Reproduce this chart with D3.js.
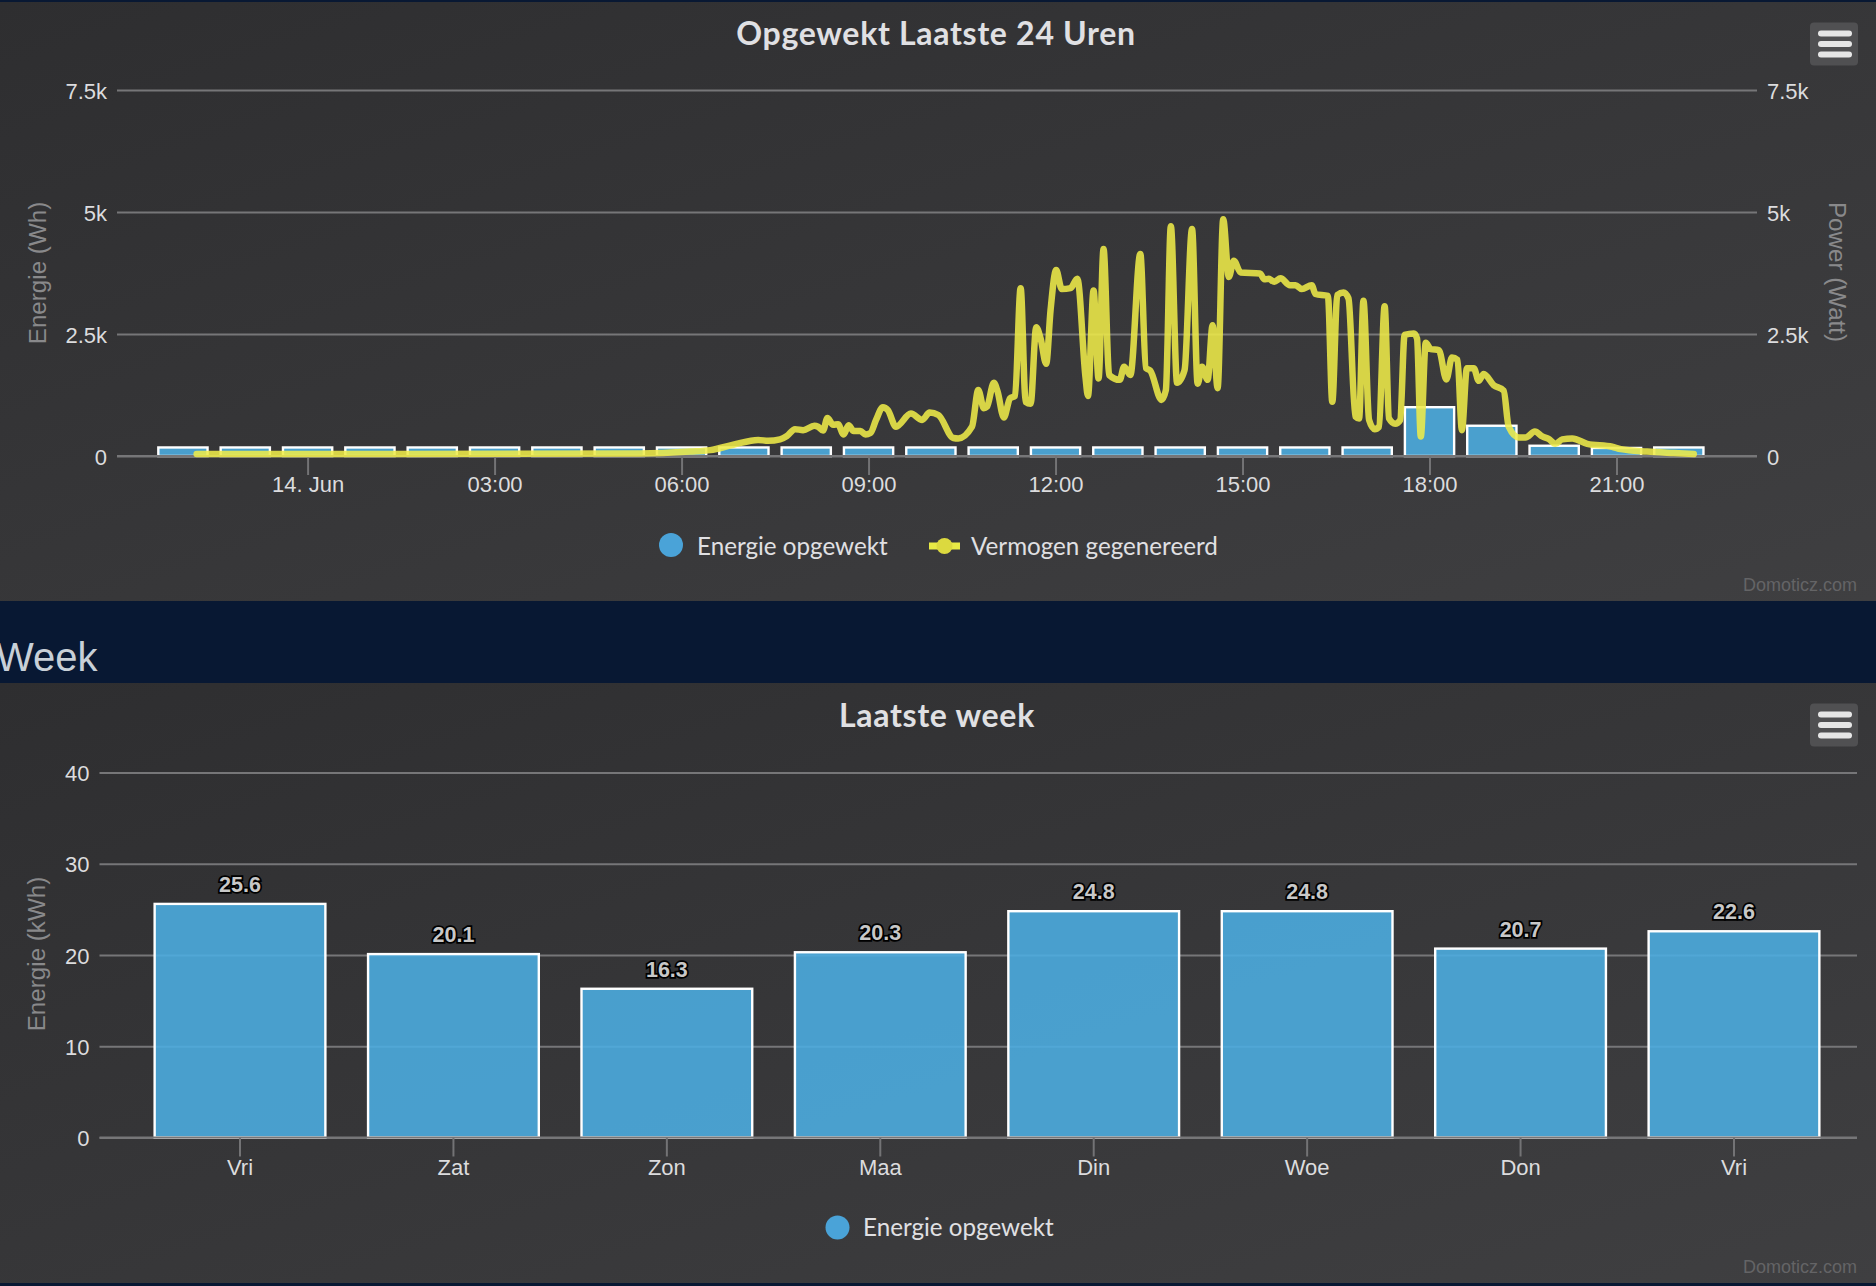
<!DOCTYPE html>
<html>
<head>
<meta charset="utf-8">
<title>Opgewekt</title>
<script src="https://cdnjs.cloudflare.com/ajax/libs/d3/7.8.5/d3.min.js"></script>
<style>
    html, body { margin: 0; background: #081833; }
    svg { display: block; }
    text { font-family: "Liberation Sans", Arial, sans-serif; }
    .title { font-family: Lato, sans-serif; font-weight: 700; font-size: 32px; letter-spacing: 0.7px; fill: #e0e0e3; text-anchor: middle; }
    .legend { font-family: Lato, sans-serif; font-size: 24.2px; fill: #e0e0e3; }
    .axis-title { font-size: 24.2px; fill: #89898b; text-anchor: middle; }
    .tick-label { font-size: 22px; fill: #dcdcde; }
    .credit { font-size: 18px; fill: #646466; text-anchor: end; }
    .bar-label { font-size: 21.5px; font-weight: 700; fill: #c8c8c8; stroke: #000; stroke-width: 3.5px; paint-order: stroke; text-anchor: middle; }
</style>
</head>
<body>
<svg id="chart" width="1876" height="1286"></svg>
<script>
'use strict';

// Last 24 hours. Hours are relative to midnight of 14 June.
const dayEnergyHours = [-2, -1, 0, 1, 2, 3, 4, 5, 6, 7, 8, 9, 10, 11, 12, 13, 14, 15, 16, 17, 18, 19, 20, 21, 22];
const dayEnergyWh = [175, 175, 175, 175, 175, 175, 175, 175, 175, 175, 175, 175, 175, 175, 175, 175, 175, 175, 175, 175, 1000, 620, 210, 165, 175];

const powerHours = [
    -1.78, 5.34, 6.14, 6.46, 6.83, 7.23, 7.39, 7.58, 7.69, 7.82, 7.95, 8.13, 8.19, 8.27, 8.34, 8.43, 8.51, 8.60, 8.68, 8.76,
    8.87, 8.95, 9.03, 9.12, 9.23, 9.31, 9.44, 9.68, 9.86, 9.98, 10.12, 10.36, 10.44, 10.66, 10.76, 10.85, 10.90, 11.01, 11.07, 11.17,
    11.27, 11.35, 11.44, 11.52, 11.60, 11.69, 11.76, 11.85, 11.92, 12.01, 12.10, 12.24, 12.35, 12.48, 12.52, 12.61, 12.69, 12.77, 12.86, 13.03,
    13.10, 13.20, 13.36, 13.45, 13.52, 13.70, 13.77, 13.85, 13.95, 14.07, 14.19, 14.28, 14.35, 14.44, 14.52, 14.60, 14.69, 14.78, 14.86, 14.97,
    15.28, 15.35, 15.42, 15.51, 15.61, 15.76, 15.85, 15.95, 16.11, 16.17, 16.37, 16.44, 16.52, 16.62, 16.70, 16.81, 16.87, 16.94, 17.03, 17.12,
    17.19, 17.28, 17.35, 17.45, 17.53, 17.60, 17.75, 17.80, 17.86, 17.94, 18.02, 18.15, 18.27, 18.36, 18.45, 18.52, 18.60, 18.71, 18.79, 18.87,
    19.03, 19.19, 19.27, 19.43, 19.54, 19.69, 19.81, 19.91, 20.02, 20.13, 20.29, 20.53, 20.93, 21.07, 21.49, 21.92, 22.24
];
const powerWatts = [
    40, 50, 90, 120, 230, 330, 310, 340, 410, 550, 530, 620, 600, 520, 780, 640, 650, 440, 630, 510,
    510, 440, 470, 740, 1000, 940, 600, 870, 740, 890, 840, 370, 360, 600, 1350, 980, 1010, 1500, 1320, 790,
    1180, 1230, 3440, 1110, 1070, 2640, 2410, 1890, 2990, 3810, 3420, 3440, 3630, 1620, 1230, 3390, 1590, 4240, 1660, 1560,
    1830, 1660, 4140, 1800, 1750, 1150, 1350, 4710, 1500, 1760, 4650, 1480, 1830, 1560, 2680, 1390, 4850, 3670, 4000, 3760,
    3740, 3620, 3630, 3570, 3640, 3500, 3500, 3420, 3500, 3320, 3280, 1110, 3300, 3350, 3230, 810, 770, 3180, 740, 550,
    600, 3070, 770, 660, 740, 2480, 2510, 2410, 400, 2320, 2190, 2170, 1570, 2020, 1970, 530, 1800, 1800, 1540, 1680,
    1450, 1340, 600, 380, 380, 500, 400, 350, 250, 340, 360, 250, 190, 140, 90, 60, 40
];

const hourTicks = [0, 3, 6, 9, 12, 15, 18, 21];
const hourTickLabels = ['14. Jun', '03:00', '06:00', '09:00', '12:00', '15:00', '18:00', '21:00'];
const dayYTicks = [0, 2500, 5000, 7500];
const dayYTickLabels = ['0', '2.5k', '5k', '7.5k'];

// Last week
const weekDays = ['Vri', 'Zat', 'Zon', 'Maa', 'Din', 'Woe', 'Don', 'Vri'];
const weekEnergyKwh = [25.6, 20.1, 16.3, 20.3, 24.8, 24.8, 20.7, 22.6];
const weekYTicks = [0, 10, 20, 30, 40];

const BAR_BLUE = '#4caee2';
const LEGEND_BLUE = '#4aa3d8';
const LINE_YELLOW = '#efeb48';

const svg = d3.select('#chart');

const gradient = svg.append('defs').append('linearGradient')
    .attr('id', 'panel')
    .attr('x1', 0).attr('y1', 0).attr('x2', 1).attr('y2', 1);
gradient.append('stop').attr('offset', '0%').attr('stop-color', '#2e2e30');
gradient.append('stop').attr('offset', '100%').attr('stop-color', '#3f3f41');

function drawPanel(top, bottom) {
    svg.append('rect')
        .attr('x', 0)
        .attr('y', top)
        .attr('width', 1876)
        .attr('height', bottom - top)
        .attr('fill', 'url(#panel)');
}

function drawMenuButton(top) {
    const g = svg.append('g').attr('transform', 'translate(1810,' + top + ')');
    g.append('rect')
        .attr('width', 48)
        .attr('height', 43)
        .attr('rx', 4)
        .attr('fill', '#505052');
    [11, 21.5, 32].forEach(y => {
        g.append('line')
            .attr('x1', 11).attr('x2', 39)
            .attr('y1', y).attr('y2', y)
            .attr('stroke', '#e6e6e6')
            .attr('stroke-width', 6)
            .attr('stroke-linecap', 'round');
    });
}

function drawGrid(scaleY, left, right, ticks, labels) {
    const axis = svg.append('g')
        .attr('transform', 'translate(' + left + ',0)')
        .call(d3.axisLeft(scaleY)
            .tickValues(ticks)
            .tickSize(left - right)
            .tickFormat((d, i) => labels[i]));
    axis.select('.domain').remove();
    axis.selectAll('line').attr('stroke', '#767678').attr('stroke-width', 1.8);
    axis.selectAll('text')
        .attr('class', 'tick-label')
        .attr('x', -10)
        .attr('dy', 8)
        .attr('fill', null)
        .attr('text-anchor', 'end');
    axis.attr('font-family', null).attr('font-size', null);
}

function drawBottomAxis(scale, y, left, right, ticks, labels, labelY) {
    svg.append('line')
        .attr('x1', left).attr('x2', right)
        .attr('y1', y).attr('y2', y)
        .attr('stroke', '#767678')
        .attr('stroke-width', 2);

    const axis = svg.append('g')
        .attr('transform', 'translate(0,' + y + ')')
        .call(d3.axisBottom(scale)
            .tickValues(ticks)
            .tickSize(19)
            .tickFormat((d, i) => labels[i]));
    axis.select('.domain').remove();
    axis.selectAll('line').attr('stroke', '#737375').attr('stroke-width', 2);
    axis.selectAll('text')
        .attr('class', 'tick-label')
        .attr('y', labelY)
        .attr('dy', 0)
        .attr('fill', null);
    axis.attr('font-family', null).attr('font-size', null);
}

function drawAxisTitle(text, x, y, angle) {
    svg.append('text')
        .attr('class', 'axis-title')
        .attr('transform', 'translate(' + x + ',' + y + ') rotate(' + angle + ')')
        .text(text);
}

function drawBars(selection) {
    selection
        .attr('fill', BAR_BLUE)
        .attr('fill-opacity', 0.88)
        .attr('stroke', '#fff')
        .attr('stroke-width', 2.4);
}

// Top chart
const dayX = d3.scaleLinear().domain([0, 21]).range([307.6, 1616.5]);
const dayY = d3.scaleLinear().domain([0, 7500]).range([456, 90]);

drawPanel(2, 601);
svg.append('text').attr('class', 'title').attr('x', 936).attr('y', 45).text('Opgewekt Laatste 24 Uren');
drawMenuButton(22.5);

drawGrid(dayY, 117, 1757, dayYTicks, dayYTickLabels);
const dayRight = svg.append('g')
    .attr('transform', 'translate(1767,0)')
    .call(d3.axisRight(dayY)
        .tickValues(dayYTicks)
        .tickSize(0)
        .tickPadding(0)
        .tickFormat((d, i) => dayYTickLabels[i]));
dayRight.select('.domain').remove();
dayRight.selectAll('text')
    .attr('class', 'tick-label')
    .attr('dy', 8)
    .attr('fill', null);
dayRight.attr('font-family', null).attr('font-size', null);

drawAxisTitle('Energie (Wh)', 46, 273, -90);
drawAxisTitle('Power (Watt)', 1829, 272, 90);

const dayBarWidth = dayX(0.79) - dayX(0);

svg.append('g').selectAll('rect')
    .data(dayEnergyWh)
    .join('rect')
    .attr('x', (d, i) => dayX(dayEnergyHours[i]) - dayBarWidth / 2)
    .attr('y', d => dayY(d))
    .attr('width', dayBarWidth)
    .attr('height', d => dayY(0) - dayY(d))
    .call(drawBars);

drawBottomAxis(dayX, 456, 117, 1757, hourTicks, hourTickLabels, 36);

const powerLine = d3.line()
    .x((d, i) => dayX(powerHours[i]))
    .y(d => dayY(d))
    .curve(d3.curveMonotoneX);

svg.append('path')
    .attr('d', powerLine(powerWatts))
    .attr('fill', 'none')
    .attr('stroke', LINE_YELLOW)
    .attr('stroke-opacity', 0.87)
    .attr('stroke-width', 6.5)
    .attr('stroke-linejoin', 'round')
    .attr('stroke-linecap', 'round');

// Legend
svg.append('circle').attr('cx', 671).attr('cy', 545).attr('r', 12).attr('fill', LEGEND_BLUE);
svg.append('text').attr('class', 'legend').attr('x', 697).attr('y', 555).text('Energie opgewekt');
svg.append('line')
    .attr('x1', 929).attr('x2', 960)
    .attr('y1', 546).attr('y2', 546)
    .attr('stroke', '#e8ea45')
    .attr('stroke-width', 7);
svg.append('circle').attr('cx', 944.5).attr('cy', 546).attr('r', 8).attr('fill', '#dcd93f');
svg.append('text').attr('class', 'legend').attr('x', 971).attr('y', 555).text('Vermogen gegenereerd');

svg.append('text').attr('class', 'credit').attr('x', 1857).attr('y', 591).text('Domoticz.com');

// Section header
svg.append('text')
    .attr('x', -4)
    .attr('y', 671)
    .attr('font-size', 40)
    .attr('fill', '#c8d0d8')
    .text('Week');

// Bottom chart
const weekIndex = d3.range(weekDays.length);
const weekX = d3.scaleBand()
    .domain(weekIndex)
    .range([133.3, 1840.7])
    .paddingInner(0.2)
    .paddingOuter(0.1);
const weekY = d3.scaleLinear().domain([0, 40]).range([1137.5, 772.5]);

drawPanel(683, 1283);
svg.append('text').attr('class', 'title').attr('x', 937).attr('y', 727).text('Laatste week');
drawMenuButton(703.5);

drawGrid(weekY, 99.5, 1857, weekYTicks, weekYTicks.map(String));
drawAxisTitle('Energie (kWh)', 45, 954, -90);

svg.append('g').selectAll('rect')
    .data(weekEnergyKwh)
    .join('rect')
    .attr('x', (d, i) => weekX(i))
    .attr('y', d => weekY(d))
    .attr('width', weekX.bandwidth())
    .attr('height', d => weekY(0) - weekY(d))
    .call(drawBars);

drawBottomAxis(weekX, 1137.5, 99.5, 1857, weekIndex, weekDays, 37);

svg.append('g').selectAll('text')
    .data(weekEnergyKwh)
    .join('text')
    .attr('class', 'bar-label')
    .attr('x', (d, i) => weekX(i) + weekX.bandwidth() / 2)
    .attr('y', d => weekY(d) - 12)
    .text(d => d.toFixed(1));

svg.append('circle').attr('cx', 837.5).attr('cy', 1227.5).attr('r', 12).attr('fill', LEGEND_BLUE);
svg.append('text').attr('class', 'legend').attr('x', 863).attr('y', 1236).text('Energie opgewekt');

svg.append('text').attr('class', 'credit').attr('x', 1857).attr('y', 1273).text('Domoticz.com');
</script>
</body>
</html>
